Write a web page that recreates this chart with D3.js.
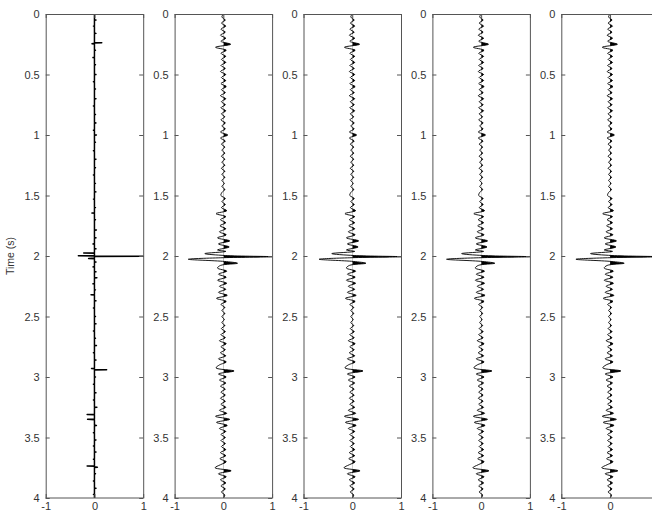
<!DOCTYPE html>
<html><head><meta charset="utf-8">
<script src="https://cdn.jsdelivr.net/npm/d3@7"></script>
<style>
html,body{margin:0;padding:0;background:#fff;}
svg{display:block;font-family:"Liberation Sans",Arial,sans-serif;}
</style></head>
<body><svg id="c" width="652" height="514"></svg>
<script>
// ---------- data ----------
const yTicks = [0, 0.5, 1, 1.5, 2, 2.5, 3, 3.5, 4];
const xTicks = [-1, 0, 1];
const yLabel = "Time (s)";
const sampleStep = 0.025; // s, background wiggle samples (panels 2-5)

// Panel 1: reflectivity spikes (time s, amplitude)
const spikeT = [0.05,0.1,0.16,0.237,0.245,0.3,0.36,0.42,0.5,0.56,0.62,0.7,0.76,0.83,0.9,0.96,1.0,1.06,1.13,1.2,1.27,1.33,1.4,1.47,1.53,1.6,1.645,1.7,1.785,1.85,1.9,1.94,1.975,1.998,2.002,2.02,2.05,2.09,2.13,2.18,2.23,2.28,2.32,2.37,2.43,2.5,2.56,2.62,2.68,2.74,2.8,2.86,2.93,2.94,3.0,3.06,3.13,3.19,3.25,3.31,3.35,3.4,3.46,3.52,3.57,3.62,3.68,3.735,3.745,3.8,3.86,3.92,3.97];
const spikeA = [0.03,-0.02,0.03,0.15,-0.05,0.02,-0.03,0.02,0.03,-0.02,0.02,0.03,-0.02,0.02,0.03,-0.02,0.04,0.02,-0.02,0.03,0.02,-0.02,0.02,0.03,-0.02,0.02,-0.05,0.02,0.04,0.03,-0.03,0.03,-0.22,-0.33,1.0,-0.12,0.03,-0.03,0.03,0.05,-0.03,0.02,-0.07,0.03,-0.02,0.02,0.03,-0.02,0.02,0.04,-0.02,0.03,-0.06,0.25,0.02,-0.02,0.03,-0.02,0.05,-0.15,-0.14,0.04,-0.02,0.03,-0.02,0.03,-0.02,-0.15,0.06,0.02,-0.02,0.03,-0.02];

// Panels 2-5: shared background wiggle, one amplitude per 0.025 s (null = replaced by event)
const wiggleA = [
 0,-0.03,0.04,-0.04,0.05,-0.05,0.04,-0.06,0.05,-0.05,
 0.15,-0.16,0.06,-0.05,0.05,-0.04,0.05,-0.05,0.04,-0.06,
 0.05,-0.04,0.05,-0.05,0.06,-0.04,0.04,-0.06,0.05,-0.04,
 0.04,-0.05,0.05,-0.04,0.03,-0.05,0.04,-0.03,0.04,-0.06,
 0.09,-0.06,0.04,-0.04,0.03,-0.03,0.03,-0.04,0.03,-0.03,
 0.03,-0.04,0.03,-0.03,0.03,-0.03,0.02,-0.03,0.03,-0.03,
 -0.05,0.04,-0.03,0.04,-0.04,0.07,-0.15,0.05,-0.06,0.05,
 -0.07,0.05,-0.08,0.06,-0.12,0.13,-0.10,0.12,-0.12,null,
 null,null,null,null,-0.12,0.07,-0.10,0.06,-0.12,0.07,
 -0.08,0.05,-0.10,0.08,-0.14,0.06,-0.05,0.03,-0.03,0.03,
 -0.03,0.02,-0.03,0.03,-0.04,0.04,-0.05,0.04,-0.08,0.06,
 -0.05,0.04,-0.06,0.05,-0.10,0.06,-0.08,-0.15,0.22,-0.10,
 0.06,-0.08,0.05,-0.06,0.04,-0.05,0.04,-0.06,0.04,-0.05,
 0.05,-0.08,0.07,-0.16,0.13,-0.14,0.08,-0.08,0.05,-0.05,
 0.04,-0.05,0.04,-0.04,0.05,-0.06,0.05,-0.07,0.06,-0.06,
 -0.17,0.16,-0.10,0.06,-0.06,0.05,-0.05,0.04,-0.04,0.03,
 0
];
// Main event near 2 s, per panel
const eventT  = [1.962, 1.98, 1.996, 2.006, 2.014, 2.027, 2.045, 2.06, 2.078];
const event2A = [0.05, -0.38, 0.04, 1.0, 0.0, -0.72, 0.02, 0.29, -0.06];
const event3A = [0.05, -0.42, 0.04, 1.0, 0.0, -0.68, 0.02, 0.28, -0.06];
const event4A = [0.05, -0.40, 0.04, 1.0, 0.0, -0.71, 0.02, 0.28, -0.06];
const event5A = [0.05, -0.40, 0.04, 1.0, 0.0, -0.70, 0.02, 0.29, -0.06];

// ---------- layout ----------
const W = 652;
const svg = d3.select("#c");
const plotTop = 14, plotBottom = 498, pw = 97.5, left0 = 45.7, gap = 128.9;
const y = d3.scaleLinear().domain([0, 4]).range([plotTop, plotBottom]);
const axisColor = "#555", textColor = "#333";

function buildWiggle(evA) {
  const pts = [];
  wiggleA.forEach((a, i) => { if (a !== null) pts.push({t: i * sampleStep, a}); });
  eventT.forEach((t, i) => pts.push({t, a: evA[i]}));
  pts.sort((p, q) => p.t - q.t);
  return pts;
}
function buildSpikes() {
  const pts = [{t: 0, a: 0}];
  const w = 0.0025;
  spikeT.forEach((t, i) => {
    pts.push({t: t - w, a: 0}, {t, a: spikeA[i]}, {t: t + w, a: 0});
  });
  pts.push({t: 4, a: 0});
  return pts;
}

const panels = [
  {pts: buildSpikes(), curve: d3.curveLinear, sw: 1.5},
  {pts: buildWiggle(event2A), curve: d3.curveCatmullRom.alpha(0.5), sw: 0.9},
  {pts: buildWiggle(event3A), curve: d3.curveCatmullRom.alpha(0.5), sw: 0.9},
  {pts: buildWiggle(event4A), curve: d3.curveCatmullRom.alpha(0.5), sw: 0.9},
  {pts: buildWiggle(event5A), curve: d3.curveCatmullRom.alpha(0.5), sw: 0.9}
];

const fmt = d => String(d);

panels.forEach((p, i) => {
  const L = left0 + i * gap;
  const x = d3.scaleLinear().domain([-1, 1]).range([L, L + pw]);
  const g = svg.append("g");

  const cid = "clip" + i;
  svg.append("clipPath").attr("id", cid).append("rect")
    .attr("x", x(0)).attr("y", plotTop).attr("width", x(1) - x(0) + 30).attr("height", plotBottom - plotTop);

  const area = d3.area().y(d => y(d.t)).x0(x(0)).x1(d => x(d.a)).curve(p.curve);
  const line = d3.line().x(d => x(d.a)).y(d => y(d.t)).curve(p.curve);

  g.append("path").datum(p.pts).attr("d", area)
    .attr("fill", "#000").attr("clip-path", `url(#${cid})`);
  g.append("path").datum(p.pts).attr("d", line)
    .attr("fill", "none").attr("stroke", "#000").attr("stroke-width", p.sw)
    .attr("stroke-linejoin", "round");

  // x tick labels that would fall outside the picture are not shown (as in the reference)
  const visibleX = xTicks.filter(v => x(v) + 4 < W);

  const axL = g.append("g").attr("transform", `translate(${L},0)`)
    .call(d3.axisLeft(y).tickValues(yTicks).tickFormat(fmt).tickSize(-4).tickSizeOuter(0).tickPadding(6));
  const axR = g.append("g").attr("transform", `translate(${L + pw},0)`)
    .call(d3.axisRight(y).tickValues(yTicks).tickFormat("").tickSize(-4).tickSizeOuter(0));
  const axB = g.append("g").attr("transform", `translate(0,${plotBottom})`)
    .call(d3.axisBottom(x).tickValues(visibleX).tickFormat(fmt).tickSize(-4).tickSizeOuter(0).tickPadding(4));
  const axT = g.append("g").attr("transform", `translate(0,${plotTop})`)
    .call(d3.axisTop(x).tickValues(xTicks).tickFormat("").tickSize(-4).tickSizeOuter(0));
  [axL, axR, axB, axT].forEach(a => {
    a.selectAll("path,line").attr("stroke", axisColor);
    a.selectAll("text").attr("fill", textColor).style("font-size", "11px")
      .style("font-family", '"Liberation Sans",Arial,sans-serif');
  });
  // keep the bottom axis line running to the panel's right edge
  axB.select(".domain").attr("d", `M${L},0H${L + pw}`);

  if (i === 0) {
    svg.append("text").attr("transform", `translate(14,${(plotTop + plotBottom) / 2}) rotate(-90)`)
      .attr("text-anchor", "middle").attr("fill", textColor)
      .style("font-size", "10.5px").text(yLabel);
  }
});
</script></body></html>
